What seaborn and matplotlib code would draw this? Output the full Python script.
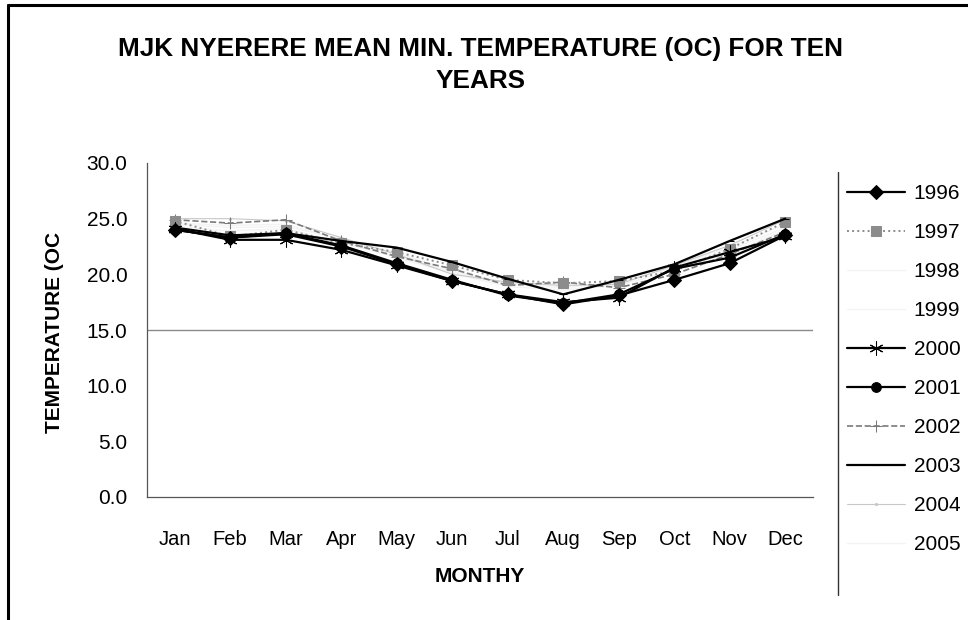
import matplotlib
matplotlib.use("Agg")
import matplotlib.pyplot as plt
from matplotlib.lines import Line2D
import seaborn as sns
import pandas as pd

sns.set_theme(style="white")
plt.rcParams["font.family"] = ["Liberation Sans", "DejaVu Sans"]
plt.rcParams["text.color"] = "black"
plt.rcParams["xtick.color"] = "black"
plt.rcParams["ytick.color"] = "black"

months = ["Jan", "Feb", "Mar", "Apr", "May", "Jun",
          "Jul", "Aug", "Sep", "Oct", "Nov", "Dec"]
years = ["1996", "1997", "1998", "1999", "2000",
         "2001", "2002", "2003", "2004", "2005"]

t1996 = [24.0, 23.3, 23.6, 22.5, 20.9, 19.4, 18.2, 17.3, 18.1, 19.5, 21.0, 23.5]
t1997 = [24.8, 23.4, 24.0, 22.8, 22.0, 20.8, 19.5, 19.2, 19.4, 20.3, 22.3, 24.7]
t1998 = [24.5, 24.2, 24.3, 23.2, 21.9, 20.3, 19.2, 18.9, 19.3, 20.6, 22.2, 24.2]
t1999 = [24.3, 23.9, 24.1, 22.9, 21.5, 20.1, 18.9, 18.6, 19.0, 20.4, 21.9, 24.0]
t2000 = [24.1, 23.1, 23.1, 22.2, 20.8, 19.4, 18.2, 17.5, 17.9, 20.6, 22.0, 23.4]
t2001 = [24.0, 23.3, 23.7, 22.6, 21.0, 19.5, 18.1, 17.4, 18.2, 20.5, 21.5, 23.6]
t2002 = [24.9, 24.6, 24.9, 23.0, 21.6, 20.5, 19.0, 19.3, 18.8, 20.0, 21.8, 23.8]
t2003 = [24.2, 23.5, 23.7, 23.0, 22.4, 21.1, 19.6, 18.2, 19.5, 20.9, 23.0, 25.0]
t2004 = [25.0, 25.0, 24.8, 23.3, 21.8, 20.0, 19.3, 19.0, 19.1, 20.8, 22.6, 24.9]
t2005 = [24.6, 24.4, 24.5, 23.1, 21.7, 20.2, 19.1, 18.8, 19.2, 20.7, 22.4, 24.5]

series = [t1996, t1997, t1998, t1999, t2000, t2001, t2002, t2003, t2004, t2005]

frames = []
for yr, vals in zip(years, series):
    frames.append(pd.DataFrame({"month": months, "temp": vals, "year": yr}))
df = pd.concat(frames, ignore_index=True)

styles = {
    "1996": dict(color="black", marker="D", ls="-", lw=1.6, ms=7),
    "1997": dict(color="#8c8c8c", marker="s", ls=":", lw=1.4, ms=7),
    "1998": dict(color="#f3f3f3", marker="", ls="-", lw=1.0, ms=0),
    "1999": dict(color="#f3f3f3", marker="", ls="-", lw=1.0, ms=0),
    "2000": dict(color="black", marker=(6, 2, 0), ls="-", lw=1.6, ms=10),
    "2001": dict(color="black", marker="o", ls="-", lw=1.6, ms=7),
    "2002": dict(color="#7a7a7a", marker="+", ls="--", lw=1.2, ms=8),
    "2003": dict(color="black", marker="_", ls="-", lw=1.6, ms=6),
    "2004": dict(color="#c8c8c8", marker=".", ls="-", lw=0.8, ms=3),
    "2005": dict(color="#f3f3f3", marker="", ls="-", lw=1.0, ms=0),
}

fig = plt.figure(figsize=(9.68, 6.2), dpi=100)
ax = fig.add_axes([147 / 968, 1 - 497 / 620, (813 - 147) / 968, (497 - 163) / 620])

order = ["1998", "1999", "2005", "2004", "2002", "1997", "2003", "2001", "2000", "1996"]
for z, yr in enumerate(order):
    st = styles[yr]
    sns.lineplot(data=df[df["year"] == yr], x="month", y="temp", ax=ax,
                 color=st["color"], marker=st["marker"], linestyle=st["ls"],
                 linewidth=st["lw"], markersize=st["ms"], markeredgecolor=st["color"],
                 markerfacecolor=st["color"], label=yr, zorder=3 + z,
                 legend=False, errorbar=None, sort=False)

ax.set_xlim(-0.5, 11.5)
ax.set_ylim(0, 30)
ax.set_yticks([0, 5, 10, 15, 20, 25, 30])
ax.set_yticklabels([f"{v:.1f}" for v in [0, 5, 10, 15, 20, 25, 30]])
ax.set_xticks(range(12))
ax.set_xticklabels(months)
ax.set_xticks([k + 0.5 for k in range(-1, 12)], minor=True)
ax.tick_params(axis="x", which="major", length=0, pad=24, labelsize=14.5, labelcolor="black")
ax.tick_params(axis="x", which="minor", length=5, width=0.8, direction="out", color="#444444")
ax.tick_params(axis="y", which="major", length=4, width=0.8, direction="out",
               pad=10, labelsize=15, color="#444444", labelcolor="black")
ax.set_xlabel("")
ax.set_ylabel("")

# horizontal reference gridline
ax.axhline(15, color="#8a8a8a", lw=1.0, zorder=1)

for side in ["top", "right"]:
    ax.spines[side].set_visible(False)
for side in ["left", "bottom"]:
    ax.spines[side].set_color("#555555")
    ax.spines[side].set_linewidth(0.9)

fig.text(481 / 968, 1 - 37 / 620,
         "MJK NYERERE MEAN MIN. TEMPERATURE (OC) FOR TEN\nYEARS",
         ha="center", va="top", fontsize=18.8, fontweight="bold", linespacing=1.4)
fig.text(55 / 968, 1 - 332 / 620, "TEMPERATURE (OC", rotation=90,
         ha="center", va="center", fontsize=15, fontweight="bold")
fig.text(480 / 968, 1 - 576 / 620, "MONTHY",
         ha="center", va="center", fontsize=15, fontweight="bold")

# legend in year order
handles, labels = ax.get_legend_handles_labels()
hmap = dict(zip(labels, handles))
leg = fig.legend([hmap[y] for y in years], years, loc="upper left",
                 bbox_to_anchor=(847 / 968, 1 - 184 / 620), frameon=False,
                 fontsize=15, handlelength=2.8, handletextpad=0.4,
                 labelspacing=0.96, borderaxespad=0, borderpad=0)
for t in leg.get_texts():
    t.set_color("black")

# outer frame and legend box edge
fig.add_artist(Line2D([8 / 968, 8 / 968], [0, 1 - 5 / 620], color="black", lw=2.2,
                      transform=fig.transFigure))
fig.add_artist(Line2D([8 / 968, 1], [1 - 5 / 620, 1 - 5 / 620], color="black", lw=2.2,
                      transform=fig.transFigure))
fig.add_artist(Line2D([838 / 968, 838 / 968], [1 - 595 / 620, 1 - 172 / 620],
                      color="#333333", lw=1.0, transform=fig.transFigure))

fig.savefig("out.png", dpi=100, facecolor="white")
